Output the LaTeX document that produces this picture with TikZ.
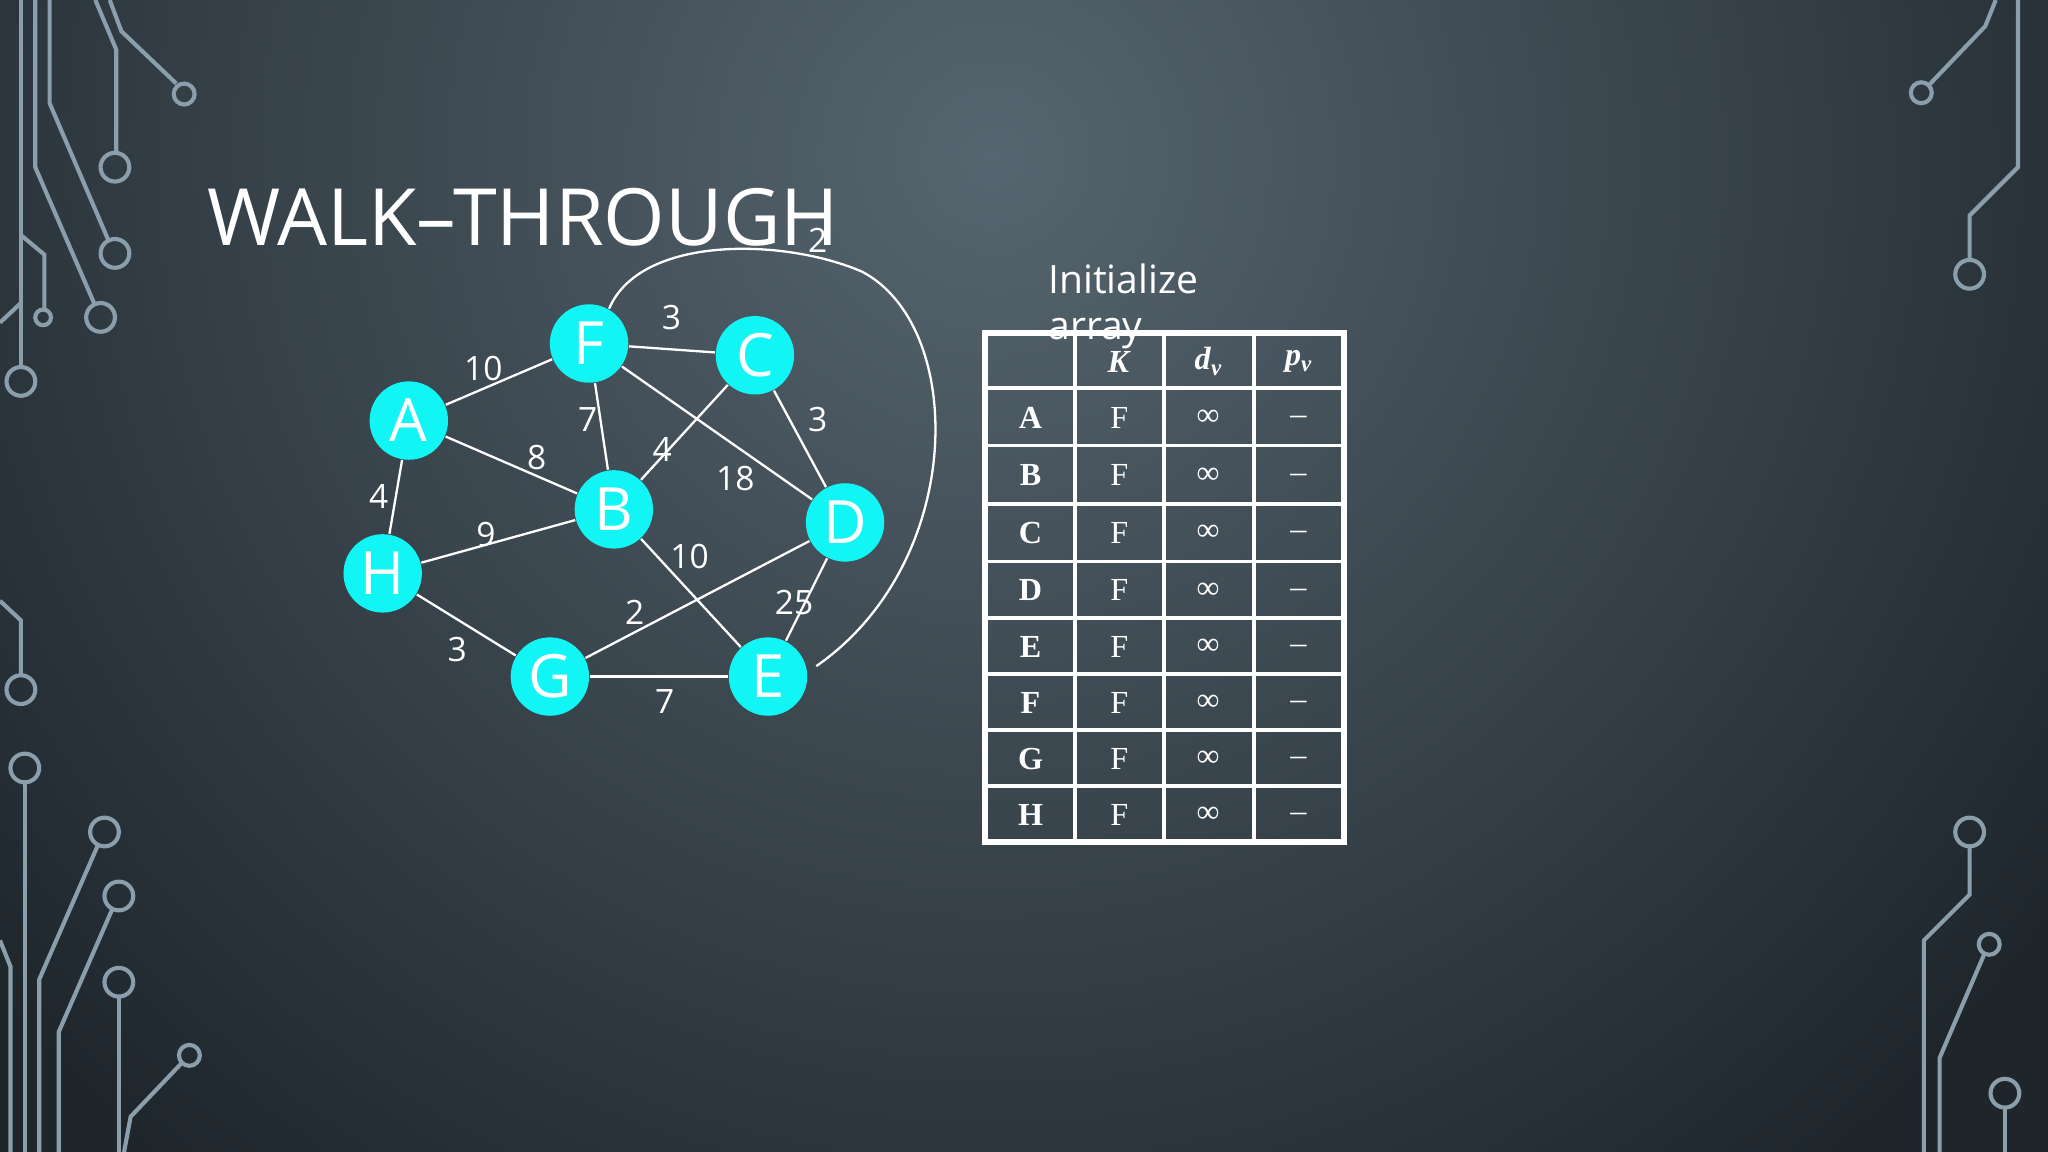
\documentclass[tikz,border=0pt]{standalone}
\usepackage{fontspec}
\setmainfont{Open Sans}
\newfontfamily\tabfont{Liberation Serif}
\pgfdeclarelayer{bglayer}
\pgfdeclarelayer{edgelayer}
\pgfsetlayers{bglayer,edgelayer,main}
\begin{document}
\begin{tikzpicture}[x=0.01cm,y=-0.01cm]
\definecolor{bgdark}{HTML}{1E262C}
\definecolor{bglight}{HTML}{56656F}
\definecolor{circ}{HTML}{8A9FAB}
\definecolor{nodec}{HTML}{12F5F5}
\useasboundingbox (0,0) rectangle (1568,882);
\clip (0,0) rectangle (1568,882);
\begin{pgfonlayer}{bglayer}
\fill[bgdark] (0,0) rectangle (1568,882);
\shade[inner color=bglight, outer color=bgdark] (760,120) circle (1000);
\end{pgfonlayer}
\tikzset{cl/.style={draw=circ,line width=0.9pt},
  gnode/.style={circle,fill=nodec,minimum size=0.6cm,inner sep=0pt,text=white,font=\fontsize{13}{13}\selectfont},
  edge/.style={draw=white,line width=0.5pt},
  wl/.style={text=white,font=\fontsize{7.3}{8}\selectfont,inner sep=1pt},
  tl/.style={draw=white,line width=0.8pt}}
% circuit decorations left top
\draw[cl] (16,0) -- (16,281); \draw[cl] (16,292) circle (11);
\draw[cl] (27,0) -- (27,128) -- (72,232); \draw[cl] (77,243) circle (11);
\draw[cl] (38,0) -- (38,79) -- (83,184); \draw[cl] (88,194) circle (11);
\draw[cl] (73,0) -- (89,38) -- (89,117); \draw[cl] (88,128) circle (11);
\draw[cl] (84,0) -- (93,24) -- (135,64); \draw[cl] (141,72) circle (8);
\draw[cl] (16,180) -- (34,195) -- (34,237); \draw[cl] (33,243) circle (6);
\draw[cl] (0,247) -- (16,232);
% left bottom
\draw[cl] (0,460) -- (16,475) -- (16,517); \draw[cl] (16,528) circle (11);
\draw[cl] (19,599) -- (19,882); \draw[cl] (19,588) circle (11);
\draw[cl] (0,720) -- (8,740) -- (8,882);
\draw[cl] (75,647) -- (30,750) -- (30,882); \draw[cl] (80,637) circle (11);
\draw[cl] (86,696) -- (45,790) -- (45,882); \draw[cl] (91,686) circle (11);
\draw[cl] (91,763) -- (91,882); \draw[cl] (91,752) circle (11);
\draw[cl] (139,814) -- (100,855) -- (95,882); \draw[cl] (145,808) circle (8);
% right
\draw[cl] (1477,65) -- (1520,20) -- (1528,0); \draw[cl] (1471,71) circle (8);
\draw[cl] (1508,199) -- (1508,165) -- (1545,128) -- (1545,0); \draw[cl] (1508,210) circle (11);
\draw[cl] (1508,648) -- (1508,685) -- (1473,720) -- (1473,882); \draw[cl] (1508,637) circle (11);
\draw[cl] (1519,731) -- (1485,810) -- (1485,882); \draw[cl] (1523,723) circle (8);
\draw[cl] (1535,848) -- (1535,882); \draw[cl] (1535,837) circle (11);
% title
\node[anchor=base west,text=white,inner sep=0pt,font=\fontsize{17.2}{17.2}\selectfont] (title) at (158,188) {WALK–THROUGH};
% graph
\node[gnode] (F) at (451,263) {F};
\node[gnode] (C) at (578,272) {C};
\node[gnode] (A) at (313,322) {A};
\node[gnode] (B) at (470,390) {B};
\node[gnode] (D) at (647,400) {D};
\node[gnode] (H) at (293,439) {H};
\node[gnode] (G) at (421,518) {G};
\node[gnode] (E) at (588,518) {E};
\begin{pgfonlayer}{edgelayer}
\draw[edge] (A) -- (F); \draw[edge] (F) -- (C); \draw[edge] (F) -- (B);
\draw[edge] (A) -- (B); \draw[edge] (C) -- (B); \draw[edge] (F) -- (D);
\draw[edge] (C) -- (D); \draw[edge] (A) -- (H); \draw[edge] (H) -- (B);
\draw[edge] (B) -- (E); \draw[edge] (G) -- (D); \draw[edge] (D) -- (E);
\draw[edge] (H) -- (G); \draw[edge] (G) -- (E);
\draw[edge] (F.60) .. controls (490,180) and (600,182) .. (660,208)
  .. controls (740,250) and (740,430) .. (625,510);
\end{pgfonlayer}
\node[wl] (l1) at (370,282) {10};
\node[wl] (l2) at (514,243) {3};
\node[wl] (l3) at (450,321) {7};
\node[wl] (l4) at (411,350) {8};
\node[wl] (l5) at (507,344) {4};
\node[wl] (l6) at (563,366) {18};
\node[wl] (l7) at (626,321) {3};
\node[wl] (l8) at (290,380) {4};
\node[wl] (l9) at (372,409) {9};
\node[wl] (l10) at (528,426) {10};
\node[wl] (l11) at (486,469) {2};
\node[wl] (l12) at (608,461) {25};
\node[wl] (l13) at (350,497) {3};
\node[wl] (l14) at (509,537) {7};
\node[wl] (l15) at (626,184) {2};
\node[anchor=north west,text=white,inner sep=0pt,align=left,font=\fontsize{8.5}{10.2}\selectfont] (init) at (802,201) {Initialize\\array};
% table
\foreach \y in {297,341,386,430,473,516,559,602} \draw[tl] (754,\y) -- (1029,\y);
\foreach \x in {823,891,960} \draw[tl] (\x,255) -- (\x,645);
\draw[white,line width=1.3pt] (754,255) rectangle (1029,645);
\begin{scope}[every node/.style={text=white,font=\tabfont\fontsize{7}{7}\selectfont,inner sep=0pt}]
\node (hK) at (857,277) {\textbf{\textit{K}}};
\node (hd) at (925,277) {\textbf{\textit{d}}\raisebox{-0.4ex}{\fontsize{5}{5}\selectfont\textbf{\textit{v}}}};
\node (hp) at (994,277) {\textbf{\textit{p}}\raisebox{-0.4ex}{\fontsize{5}{5}\selectfont\textbf{\textit{v}}}};
\foreach \n/\y in {A/320,B/364,C/408,D/452,E/495,F/538,G/581,H/624}{
  \node (r\n) at (789,\y) {\textbf{\n}};
  \node (k\n) at (857,\y) {F};
  \node (d\n) at (925,\y) {∞};
  \node (p\n) at (994,\y+2) {–};
}
\end{scope}
\end{tikzpicture}
\end{document}
